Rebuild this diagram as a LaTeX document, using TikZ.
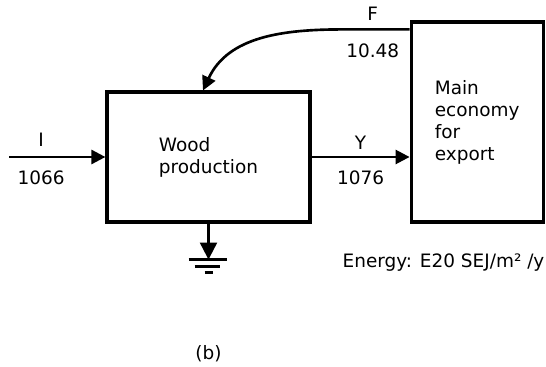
\documentclass[tikz,border=0pt]{standalone}
\usepackage{fontspec}
\setmainfont{DejaVu Sans}
\usepackage{xcolor}
\usepackage{tikz}
\usetikzlibrary{arrows.meta, positioning}
\tikzset{
    box/.style={rectangle, draw=black, line width=1.8pt, align=left,
                font=\fontsize{10.5}{12.5}\selectfont},
    flow/.style={line width=1.5pt, -{Triangle[length=2.8mm, width=2.8mm]}},
    sinkflow/.style={line width=1.2pt, -{Triangle[length=3.4mm, width=3.4mm]}},
    ground/.style={line width=1.4pt},
    lbl/.style={font=\fontsize{10.5}{12.5}\selectfont}
}

\begin{document}
\begin{tikzpicture}
    \useasboundingbox (0,0) rectangle (10.92,-7.34);

    % Wood production
    \node[box, minimum width=4.06cm, minimum height=2.6cm] (wood) at (4.17,-3.14)
        {Wood\\production};

    % Main economy
    \node[box, minimum width=2.64cm, minimum height=4cm,
          right=1.96cm of wood.south east, anchor=south west] (economy)
        {Main\\economy\\for\\export};

    % Source and sink
    \coordinate[left=1.92cm of wood.west] (source);
    \coordinate[below=0.72cm of wood.south] (sink);

    % Flows with labels
    \draw[flow] (source) -- node[lbl, pos=0.33, above=2pt] {I}
        node[lbl, pos=0.33, below=4pt] {1066} (wood.west);
    \draw[flow] (wood.east) -- node[lbl, above=0pt] {Y}
        node[lbl, below=4pt] {1076} (economy.west |- wood.east);
    \draw[flow] ([yshift=-0.18cm]economy.north west) -- node[lbl, pos=0.55, above=1pt] {F}
        node[lbl, pos=0.55, below=4pt] {10.48} ++(-1.34,0)
        to[out=180, in=65] ([xshift=-0.11cm]wood.north);

    % Heat sink
    \draw[sinkflow] (wood.south) -- (sink);
    \draw[ground] ([xshift=-0.4cm]sink) -- ([xshift=0.36cm]sink);
    \draw[ground] ([xshift=-0.28cm, yshift=-0.14cm]sink) -- ([xshift=0.22cm, yshift=-0.14cm]sink);
    \draw[ground] ([xshift=-0.08cm, yshift=-0.26cm]sink) -- ([xshift=0.08cm, yshift=-0.26cm]sink);

    % Units and caption
    \node[lbl, inner sep=0pt, below=0.78cm of economy.south east, anchor=east] (units)
        {Energy: E20 SEJ/m² /y};
    \node[lbl, below=2.6cm of wood.south, anchor=center] (caption) {(b)};
\end{tikzpicture}
\end{document}
